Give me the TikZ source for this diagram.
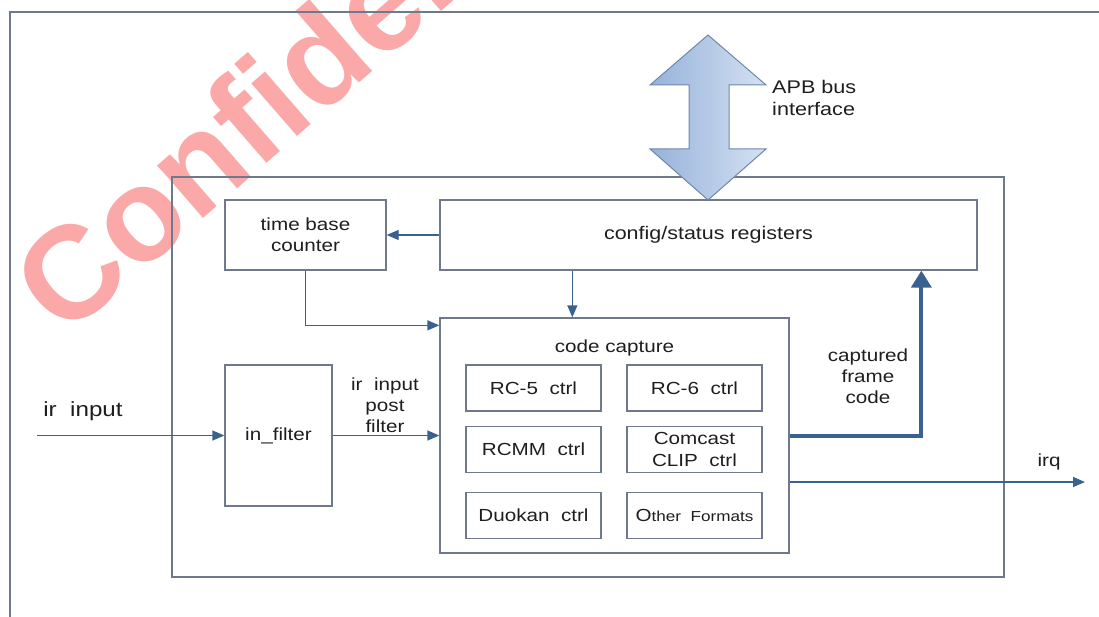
\documentclass[tikz,border=0pt]{standalone}
\usepackage{fontspec}
\setmainfont{Liberation Sans}[FakeStretch=1.18]
\newfontfamily\wmfont{Liberation Sans}
\usetikzlibrary{arrows.meta,calc}
\definecolor{boxgray}{RGB}{110,122,140}
\definecolor{arrblue}{RGB}{58,98,145}
\definecolor{txt}{RGB}{30,30,30}
\definecolor{wmpink}{RGB}{250,168,168}
\definecolor{apbleft}{RGB}{150,178,218}
\definecolor{apbright}{RGB}{212,225,242}
\definecolor{apbedge}{RGB}{110,135,170}
\tikzset{
  box/.style={draw=boxgray, line width=1.3pt, inner sep=0pt, align=center, text=txt,
              font=\fontsize{17.5}{21.2}\selectfont},
  lbl/.style={text=txt, align=center, inner sep=0pt, font=\fontsize{17.5}{21.2}\selectfont},
  arr/.style={draw=arrblue, line width=1.3pt, -{Triangle[length=12pt,width=10pt]}},
  fatarr/.style={draw=arrblue, line width=4pt, -{Triangle[length=17pt,width=20pt]}},
}
\begin{document}
\begin{tikzpicture}[x=1pt,y=-1pt]
\useasboundingbox (0,0) rectangle (1099,617);
% watermark
\begin{scope}
\clip (0,0) rectangle (1099,617);
\node[anchor=base west, rotate=41, inner sep=0pt, text=wmpink,
      font=\wmfont\bfseries\fontsize{132}{132}\selectfont] (wm) at (64,340) {Confidential};
\end{scope}
% outer frame
\draw[boxgray, line width=1.3pt] (1099,12) -- (10,12) -- (10,617);
% main box
\node[box, minimum width=832pt, minimum height=400pt] (main) at (588,377) {};
% blocks
\node[box, minimum width=161pt, minimum height=70pt] (tbc) at (305.5,235) {time base\\counter};
\node[box, minimum width=537pt, minimum height=70pt, font=\fontsize{18.2}{21.2}\selectfont] (cfg) at (708.5,235) {config/status registers};
\node[box, minimum width=349pt, minimum height=235pt] (cc) at (614.5,435.5) {};
\node[lbl] (cclbl) at (614.5,348) {code capture};
\node[box, minimum width=107pt, minimum height=141pt] (inf) at (278.5,435.5) {in\_filter};
\node[box, minimum width=135pt, minimum height=46pt] (rc5) at (533.5,388) {RC-5~~ctrl};
\node[box, minimum width=135pt, minimum height=46pt] (rc6) at (694.5,388) {RC-6~~ctrl};
\node[box, minimum width=135pt, minimum height=46pt] (rcmm) at (533.5,449.5) {RCMM~~ctrl};
\node[box, minimum width=135pt, minimum height=46pt] (comc) at (694.5,449.5) {Comcast\\CLIP~~ctrl};
\node[box, minimum width=135pt, minimum height=46pt] (duo) at (533.5,515.5) {Duokan~~ctrl};
\node[box, minimum width=135pt, minimum height=46pt] (oth) at (694.5,515.5) {O{\fontsize{14.5}{17}\selectfont ther~~Formats}};
% labels
\node[lbl, font=\fontsize{20.5}{24}\selectfont] (irinlbl) at (83,411) {ir~~input};
\node[lbl] (pflbl) at (385,405) {ir~~input\\post\\filter};
\node[lbl] (cflbl) at (868,376) {captured\\frame\\code};
\node[lbl] (irqlbl) at (1049,462) {irq};
\node[lbl, align=left, anchor=west, font=\fontsize{18.3}{21.2}\selectfont] (apblbl) at (772,98) {APB bus\\interface};
% connectors
\coordinate (irin) at (37,435.5);
\coordinate (irqend) at (1085,482);
\draw[arr] (cfg.west) -- (tbc.east);
\draw[arr] ($(cfg.south west)+(133,0)$) -- ($(cc.north west)+(133,0)$);
\draw[arr] (tbc.south) |- ($(cc.north west)+(0,8)$);
\draw[arr] (irin) -- (inf.west);
\draw[arr] (inf.east) -- (cc.west);
\draw[fatarr] (cc.east) -| ($(cfg.south west)+(482,0)$);
\draw[arr] (cc.east |- irqend) -- (irqend);
% APB bus double arrow
\draw[draw=apbedge, line width=1pt, left color=apbleft, right color=apbright]
  (708,35) -- (766,85) -- (729,85) -- (729,149) -- (766,149) -- (708,200)
  -- (650,149) -- (689,149) -- (689,85) -- (650,85) -- cycle;
\end{tikzpicture}
\end{document}
